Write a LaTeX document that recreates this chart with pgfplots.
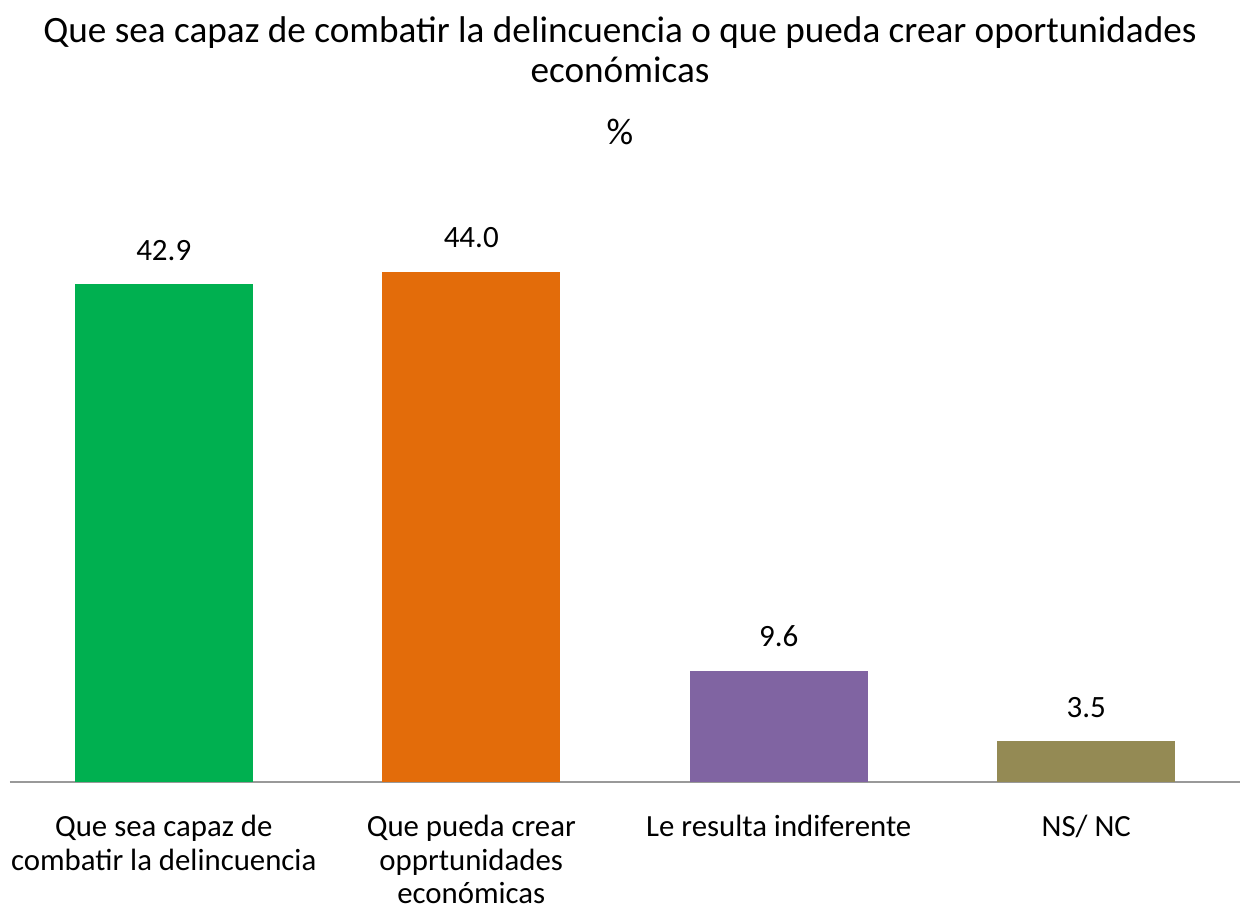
\documentclass[border=0pt]{standalone}
\usepackage{pgfplots}
\pgfplotsset{compat=1.18}
\usepackage{fontspec}
\setmainfont{Carlito}
\definecolor{cgreen}{HTML}{00B050}
\definecolor{corange}{HTML}{E36C0A}
\definecolor{cpurple}{HTML}{8064A2}
\definecolor{colive}{HTML}{948A54}
\begin{document}
\begin{tikzpicture}
\useasboundingbox (0,0) rectangle (620pt,455pt);
\begin{axis}[
  at={(5pt,64pt)}, anchor=south west,
  scale only axis, width=615pt, height=290pt,
  xmin=-0.5, xmax=3.5, ymin=0, ymax=50,
  ybar, bar shift=0pt,
  axis y line=none,
  axis x line*=bottom,
  axis line style={draw=gray!80, line width=0.8pt},
  x axis line style={-},
  xtick={0,1,2,3},
  xticklabels={{Que sea capaz de\\combatir la delincuencia},{Que pueda crear\\opprtunidades\\económicas},{Le resulta indiferente},{NS/ NC}},
  xticklabel style={align=center, font=\fontsize{15.4}{16.8}\selectfont, yshift=-13pt},
  major tick length=0pt,
  nodes near coords,
  nodes near coords style={font=\fontsize{15.5}{15}\selectfont, yshift=8.5pt, /pgf/number format/.cd, fixed, fixed zerofill, precision=1, assume math mode=true},
  clip=false,
]
\addplot[fill=cgreen, draw=none, bar width=89pt] coordinates {(0,42.9)};
\addplot[fill=corange, draw=none, bar width=89pt] coordinates {(1,44.0)};
\addplot[fill=cpurple, draw=none, bar width=89pt] coordinates {(2,9.6)};
\addplot[fill=colive, draw=none, bar width=89pt] coordinates {(3,3.5)};
\end{axis}
\node[font=\fontsize{18.6}{20}\selectfont, align=center] at (310pt,430pt) {Que sea capaz de combatir la delincuencia o que pueda crear oportunidades\\económicas};
\node[font=\fontsize{18.6}{20}\selectfont] at (310pt,389pt) {\%};
\end{tikzpicture}
\end{document}
